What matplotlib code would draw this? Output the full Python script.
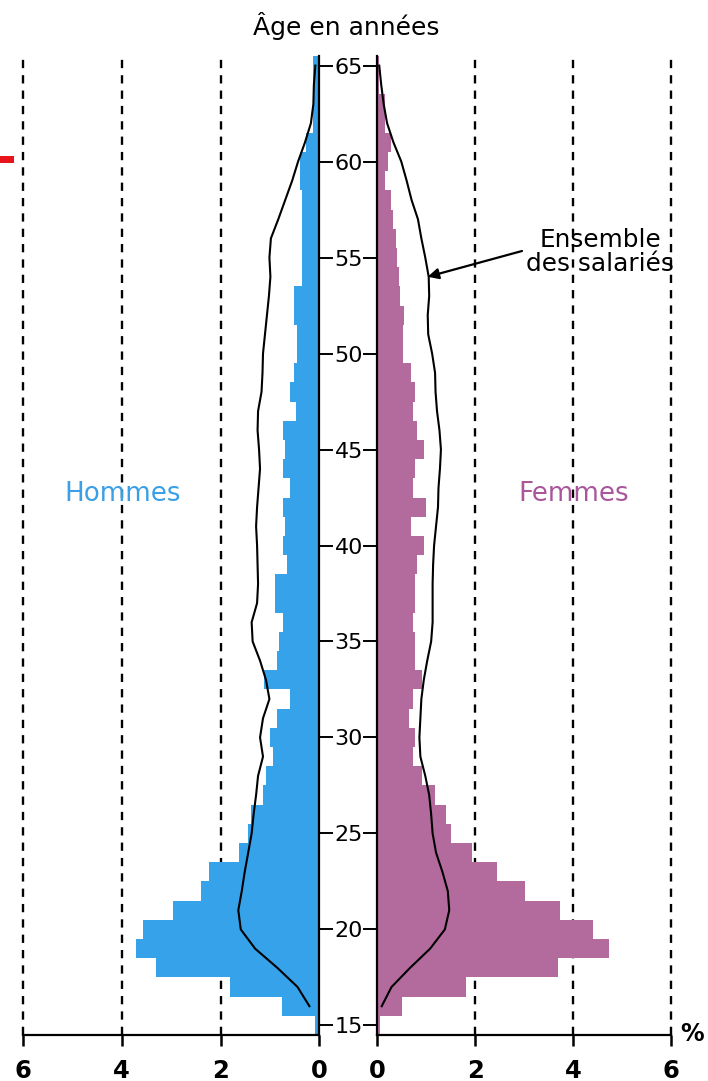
import matplotlib
matplotlib.use("Agg")
import matplotlib.pyplot as plt
from matplotlib.patches import Rectangle

plt.rcParams['font.family'] = ['DejaVu Sans']

ages = list(range(15, 66))

hommes = [0.09, 0.76, 1.80, 3.31, 3.72, 3.58, 2.96, 2.39, 2.24, 1.62,
          1.44, 1.38, 1.14, 1.08, 0.93, 0.99, 0.85, 0.59, 1.12, 0.85,
          0.81, 0.73, 0.90, 0.90, 0.65, 0.73, 0.69, 0.73, 0.59, 0.73,
          0.69, 0.73, 0.47, 0.59, 0.51, 0.46, 0.46, 0.51, 0.51, 0.36,
          0.36, 0.36, 0.36, 0.36, 0.40, 0.40, 0.27, 0.13, 0.13, 0.13,
          0.13]

femmes = [0.05, 0.51, 1.81, 3.69, 4.73, 4.41, 3.74, 3.01, 2.44, 1.94,
          1.50, 1.40, 1.18, 0.91, 0.73, 0.77, 0.65, 0.73, 0.91, 0.78,
          0.78, 0.72, 0.78, 0.78, 0.81, 0.95, 0.69, 0.99, 0.72, 0.78,
          0.96, 0.81, 0.72, 0.78, 0.69, 0.52, 0.52, 0.55, 0.47, 0.44,
          0.41, 0.38, 0.33, 0.29, 0.16, 0.22, 0.27, 0.15, 0.15, 0.04,
          0.04]

ages_ensemble = list(range(16, 66))
# "Ensemble des salariés" outline, as drawn on the men's side and the women's side
ensemble_h = [0.20, 0.44, 0.85, 1.30, 1.59, 1.64, 1.57, 1.51, 1.44, 1.37,
              1.33, 1.28, 1.24, 1.14, 1.20, 1.14, 1.01, 1.08, 1.20, 1.35,
              1.37, 1.26, 1.24, 1.25, 1.26, 1.28, 1.26, 1.23, 1.20, 1.22,
              1.25, 1.24, 1.17, 1.15, 1.14, 1.10, 1.06, 1.02, 0.99, 1.01,
              0.98, 0.83, 0.69, 0.55, 0.43, 0.29, 0.17, 0.12, 0.11, 0.08]
ensemble_f = [0.09, 0.29, 0.67, 1.08, 1.38, 1.47, 1.44, 1.33, 1.20, 1.13,
              1.10, 1.06, 0.98, 0.88, 0.86, 0.88, 0.90, 0.95, 1.02, 1.10,
              1.13, 1.13, 1.13, 1.14, 1.16, 1.20, 1.24, 1.25, 1.28, 1.30,
              1.27, 1.22, 1.19, 1.18, 1.12, 1.04, 1.03, 1.06, 1.05, 0.98,
              0.90, 0.83, 0.70, 0.60, 0.49, 0.33, 0.20, 0.13, 0.08, 0.04]

age_ticks = [15, 20, 25, 30, 35, 40, 45, 50, 55, 60, 65]
pct_ticks = [0, 2, 4, 6]

BLUE = '#35a2ea'
PURPLE = '#b36b9e'
W, H = 708, 1081

fig = plt.figure(figsize=(W / 100, H / 100), dpi=100)

def fx(px):
    return px / W

def fy(py):
    return 1 - py / H

bottom = fy(1035)
top = fy(56)
axL = fig.add_axes([fx(23), bottom, fx(319.3) - fx(23), top - bottom])
axR = fig.add_axes([fx(377.3), bottom, fx(671) - fx(377.3), top - bottom])

for ax in (axL, axR):
    ax.set_ylim(14.5, 65.5)
    ax.set_facecolor('none')
    for x in [2, 4, 6]:
        ax.axvline(x, color='black', lw=1.7, linestyle=(0, (3.5, 3.0)), zorder=0,
                   clip_on=False)
    ax.spines['top'].set_visible(False)
    ax.spines['bottom'].set_linewidth(1.6)
    ax.set_xticks(pct_ticks)
    ax.set_xticklabels([str(t) for t in pct_ticks], fontsize=17.5, fontweight='bold')
    ax.tick_params(axis='x', direction='out', length=8, width=1.8, pad=9)

axL.barh(ages, hommes, height=1.0, color=BLUE, linewidth=0, zorder=2)
axL.plot(ensemble_h, ages_ensemble, color='black', lw=1.5, zorder=3)
axL.set_xlim(6, 0)
axL.spines['left'].set_visible(False)
axL.spines['right'].set_linewidth(1.6)
axL.yaxis.tick_right()
axL.set_yticks(age_ticks)
axL.set_yticklabels([str(a) for a in age_ticks], fontsize=16)
axL.tick_params(axis='y', direction='out', length=10, width=1.4, pad=1)

axR.barh(ages, femmes, height=1.0, color=PURPLE, linewidth=0, zorder=2)
axR.plot(ensemble_f, ages_ensemble, color='black', lw=1.5, zorder=3)
axR.set_xlim(0, 6)
axR.spines['right'].set_visible(False)
axR.spines['left'].set_linewidth(1.6)
axR.set_yticks(age_ticks)
axR.set_yticklabels([])
axR.tick_params(axis='y', direction='out', length=10, width=1.4)

fig.text(fx(346), fy(26), 'Âge en années', ha='center', va='center', fontsize=18)
fig.text(fx(123), fy(494), 'Hommes', ha='center', va='center', fontsize=18.8, color='#3a9fe6')
fig.text(fx(574), fy(494), 'Femmes', ha='center', va='center', fontsize=18.8, color='#a9579a')
fig.text(fx(692), fy(1034), '%', ha='center', va='center', fontsize=17, fontweight='bold')

fig.text(fx(600), fy(252), 'Ensemble\ndes salariés', ha='center', va='center',
         fontsize=17.8, linespacing=1.0)
axR.annotate('', xy=(1.03, 54.0), xytext=(fx(522), fy(251)),
             textcoords='figure fraction',
             arrowprops=dict(arrowstyle='-|>', color='black', lw=1.6,
                             mutation_scale=16, shrinkA=0, shrinkB=0))

fig.add_artist(Rectangle((0, fy(163)), fx(14), 7 / H, transform=fig.transFigure,
                         color='#e8141c', linewidth=0))

fig.savefig('out.png', dpi=100)
